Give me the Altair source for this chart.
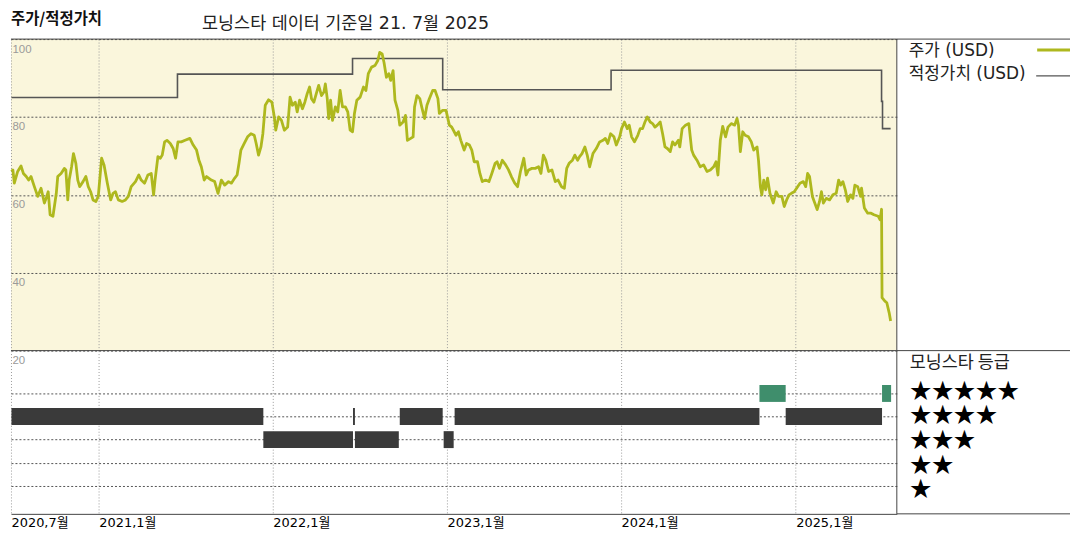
import altair as alt
import pandas as pd

# ---------------- text ----------------
chart_title = "주가/적정가치"
data_date_text = "모닝스타 데이터 기준일 21. 7월 2025"
legend_labels = ["주가 (USD)", "적정가치 (USD)"]
rating_title = "모닝스타 등급"
star_ratings = [5, 4, 3, 2, 1]
star_labels = ["★★★★★", "★★★★", "★★★", "★★", "★"]
y_ticks = [20, 40, 60, 80, 100]
x_ticks = [(2020, 7), (2021, 1), (2022, 1), (2023, 1), (2024, 1), (2025, 1)]
x_domain = [(2020, 7), (2025, 8)]

# ---------------- price (USD), time as decimal year ----------------
price_t = [
    2020.500, 2020.510, 2020.519, 2020.538, 2020.557, 2020.571, 2020.586, 2020.601, 2020.614, 2020.633,
    2020.652, 2020.671, 2020.690, 2020.703, 2020.713, 2020.722, 2020.738, 2020.757, 2020.766, 2020.785,
    2020.804, 2020.813, 2020.823, 2020.832, 2020.846, 2020.857, 2020.870, 2020.880, 2020.893, 2020.912,
    2020.927, 2020.941, 2020.956, 2020.969, 2020.984, 2020.999, 2021.018, 2021.032, 2021.051, 2021.070,
    2021.083, 2021.098, 2021.113, 2021.136, 2021.155, 2021.170, 2021.189, 2021.212, 2021.231, 2021.246,
    2021.265, 2021.284, 2021.303, 2021.316, 2021.326, 2021.341, 2021.354, 2021.367, 2021.379, 2021.392,
    2021.411, 2021.430, 2021.443, 2021.455, 2021.474, 2021.496, 2021.525, 2021.544, 2021.563, 2021.576,
    2021.591, 2021.606, 2021.620, 2021.648, 2021.667, 2021.686, 2021.705, 2021.724, 2021.747, 2021.762,
    2021.781, 2021.795, 2021.806, 2021.819, 2021.838, 2021.857, 2021.876, 2021.895, 2021.905, 2021.920,
    2021.933, 2021.943, 2021.958, 2021.977, 2021.996, 2022.009, 2022.019, 2022.034, 2022.051, 2022.066,
    2022.085, 2022.100, 2022.113, 2022.129, 2022.142, 2022.155, 2022.170, 2022.186, 2022.199, 2022.212,
    2022.223, 2022.237, 2022.250, 2022.265, 2022.280, 2022.294, 2022.303, 2022.313, 2022.322, 2022.332,
    2022.345, 2022.360, 2022.375, 2022.388, 2022.402, 2022.417, 2022.432, 2022.445, 2022.459, 2022.470,
    2022.483, 2022.502, 2022.521, 2022.535, 2022.550, 2022.569, 2022.588, 2022.603, 2022.616, 2022.629,
    2022.641, 2022.654, 2022.667, 2022.679, 2022.692, 2022.702, 2022.720, 2022.730, 2022.749, 2022.762,
    2022.774, 2022.793, 2022.806, 2022.815, 2022.830, 2022.844, 2022.857, 2022.872, 2022.887, 2022.901,
    2022.920, 2022.933, 2022.948, 2022.958, 2022.977, 2022.996, 2023.015, 2023.028, 2023.053, 2023.068,
    2023.081, 2023.100, 2023.114, 2023.129, 2023.144, 2023.157, 2023.176, 2023.190, 2023.205, 2023.224,
    2023.243, 2023.258, 2023.277, 2023.290, 2023.303, 2023.319, 2023.338, 2023.356, 2023.372, 2023.391,
    2023.406, 2023.423, 2023.442, 2023.455, 2023.470, 2023.489, 2023.508, 2023.527, 2023.542, 2023.556,
    2023.569, 2023.584, 2023.603, 2023.622, 2023.641, 2023.660, 2023.675, 2023.688, 2023.702, 2023.721,
    2023.736, 2023.751, 2023.764, 2023.778, 2023.793, 2023.808, 2023.821, 2023.840, 2023.859, 2023.878,
    2023.897, 2023.910, 2023.926, 2023.941, 2023.960, 2023.973, 2023.992, 2024.005, 2024.020, 2024.036,
    2024.049, 2024.062, 2024.077, 2024.096, 2024.112, 2024.125, 2024.138, 2024.153, 2024.168, 2024.182,
    2024.195, 2024.210, 2024.225, 2024.239, 2024.252, 2024.267, 2024.282, 2024.296, 2024.309, 2024.329,
    2024.337, 2024.352, 2024.371, 2024.390, 2024.405, 2024.418, 2024.437, 2024.456, 2024.475, 2024.494,
    2024.513, 2024.532, 2024.545, 2024.557, 2024.570, 2024.583, 2024.599, 2024.614, 2024.633, 2024.652,
    2024.665, 2024.674, 2024.684, 2024.699, 2024.712, 2024.731, 2024.747, 2024.760, 2024.779, 2024.788,
    2024.798, 2024.807, 2024.817, 2024.830, 2024.841, 2024.855, 2024.874, 2024.889, 2024.902, 2024.921,
    2024.936, 2024.949, 2024.963, 2024.978, 2024.993, 2025.012, 2025.025, 2025.044, 2025.058, 2025.069,
    2025.082, 2025.096, 2025.111, 2025.126, 2025.139, 2025.149, 2025.160, 2025.177, 2025.196, 2025.215,
    2025.234, 2025.247, 2025.259, 2025.272, 2025.285, 2025.300, 2025.316, 2025.329, 2025.342, 2025.357,
    2025.373, 2025.380, 2025.395, 2025.414, 2025.433, 2025.452, 2025.475, 2025.486, 2025.494, 2025.498,
    2025.513, 2025.524, 2025.538, 2025.547,
]
price_v = [
    66.0, 66.4, 63.0, 66.0, 67.4, 65.5, 64.7, 63.8, 64.7, 62.1,
    59.6, 61.7, 57.9, 59.6, 60.8, 54.9, 54.5, 60.4, 64.7, 65.5,
    66.8, 66.4, 58.7, 63.8, 67.2, 70.6, 68.1, 63.8, 62.1, 63.4,
    64.7, 62.1, 60.8, 58.7, 58.3, 59.6, 69.4, 67.7, 63.0, 58.7,
    60.4, 60.8, 58.7, 58.3, 58.7, 59.6, 62.1, 63.4, 65.1, 63.8,
    63.0, 65.1, 65.5, 60.0, 63.8, 69.8, 69.4, 70.2, 73.6, 74.0,
    73.2, 71.9, 69.4, 73.6, 73.6, 74.0, 74.5, 72.8, 71.5, 68.9,
    67.2, 63.8, 64.7, 63.8, 63.4, 60.4, 63.8, 62.5, 63.4, 63.0,
    64.3, 65.1, 68.1, 71.5, 73.2, 74.9, 75.7, 75.3, 73.2, 70.2,
    72.3, 75.7, 83.0, 84.4, 83.8, 80.0, 76.6, 80.0, 79.1, 76.6,
    77.4, 85.1, 83.0, 83.8, 81.3, 84.3, 82.1, 83.8, 86.0, 87.7,
    84.7, 83.8, 86.0, 88.1, 85.5, 86.4, 88.5, 84.7, 79.6, 84.3,
    79.1, 82.6, 81.3, 86.8, 82.6, 82.6, 81.3, 76.6, 76.2, 80.9,
    84.3, 85.1, 87.7, 86.8, 91.1, 92.8, 93.2, 94.5, 96.6, 96.2,
    94.0, 90.2, 91.1, 89.4, 91.9, 84.3, 81.7, 77.9, 78.7, 80.4,
    74.0, 74.5, 74.9, 82.6, 85.5, 84.7, 82.6, 79.6, 83.0, 84.7,
    86.8, 86.8, 84.7, 80.9, 81.7, 81.7, 77.9, 77.4, 75.3, 76.2,
    74.0, 71.5, 73.2, 72.8, 71.5, 68.5, 68.5, 65.5, 63.4, 63.8,
    63.4, 65.5, 68.1, 68.5, 66.8, 68.9, 67.7, 66.4, 64.7, 63.0,
    62.1, 66.0, 69.4, 65.1, 66.4, 66.8, 66.8, 67.2, 65.5, 70.2,
    68.9, 66.0, 66.4, 63.4, 63.8, 62.1, 61.7, 66.8, 68.1, 68.9,
    70.2, 68.9, 69.8, 70.6, 72.3, 70.2, 67.2, 70.6, 71.9, 73.6,
    74.0, 74.5, 73.2, 75.7, 74.9, 72.8, 74.9, 77.0, 78.7, 77.0,
    77.9, 74.9, 73.6, 75.3, 77.0, 77.0, 78.7, 80.0, 78.7, 78.3,
    77.4, 77.9, 78.7, 75.7, 72.3, 71.9, 71.1, 73.6, 72.8, 74.0,
    72.3, 77.0, 77.9, 78.3, 71.5, 70.2, 68.9, 67.2, 67.7, 66.0,
    66.4, 67.2, 68.5, 65.1, 74.0, 77.6, 74.9, 77.4, 78.3, 77.9,
    79.6, 77.9, 71.1, 76.2, 75.3, 74.9, 73.6, 71.5, 72.3, 68.9,
    62.1, 60.0, 63.8, 61.3, 64.3, 60.4, 57.9, 60.8, 59.6, 59.6,
    57.0, 58.7, 60.0, 60.4, 60.8, 62.1, 63.0, 63.4, 62.1, 65.5,
    64.7, 59.6, 57.9, 56.2, 58.3, 60.8, 57.9, 59.1, 58.7, 60.0,
    60.4, 63.8, 62.5, 63.4, 61.3, 58.3, 60.0, 59.1, 62.5, 62.1,
    59.6, 61.7, 56.6, 55.3, 55.3, 54.9, 54.5, 53.6, 56.3, 33.6,
    32.7, 32.3, 29.7, 27.6,
]

# ---------------- fair value (USD), step changes ----------------
fair_t = [2020.500, 2021.453, 2022.459, 2022.977, 2023.944, 2025.494, 2025.500, 2025.547]
fair_v = [85, 91, 95, 87, 92, 84, 77, 77]

# ---------------- Morningstar rating periods ----------------
rating_start = [2020.500, 2021.947, 2022.462, 2022.472, 2022.730, 2022.981, 2023.044, 2024.795, 2024.945, 2025.496]
rating_end = [2021.947, 2022.462, 2022.472, 2022.726, 2022.977, 2023.040, 2024.795, 2024.945, 2025.496, 2025.549]
rating_val = [4, 3, 4, 3, 4, 3, 4, 5, 4, 5]

# ---------------- styling ----------------
PRICE_COLOR = "#AEB81E"
FAIR_COLOR = "#555555"
BG = "#FAF6DC"
BORDER = "#444444"
DARK_BAR = "#3a3a3a"
GREEN_BAR = "#3F8E6C"
KFONT = "Noto Sans CJK KR"
MIXFONT = "DejaVu Sans, Noto Sans CJK KR"
PLOT_W, SIDE_W = 890, 174
TOP_H, BOT_H = 313, 164


def to_date(t):
    y = int(t)
    s = pd.Timestamp(year=y, month=1, day=1)
    e = pd.Timestamp(year=y + 1, month=1, day=1)
    return (s + (e - s) * (t - y)).floor("D")


price_df = pd.DataFrame({"date": [to_date(t) for t in price_t], "price": price_v})
fair_df = pd.DataFrame({"date": [to_date(t) for t in fair_t], "price": fair_v})
rating_df = pd.DataFrame({
    "start": [to_date(t) for t in rating_start],
    "end": [to_date(t) for t in rating_end],
    "rating": rating_val,
})
one = pd.DataFrame({"k": [0]})

dt = lambda ym: alt.DateTime(year=ym[0], month=ym[1], date=1)
x_scale = alt.Scale(domain=[dt(d) for d in x_domain])
tick_vals = [dt(d) for d in x_ticks]

x_axis_top = alt.Axis(values=tick_vals, grid=True, gridColor="#9a9a9a", gridDash=[1, 2],
                      labels=False, ticks=False, domain=False, title=None)
x_axis_bot = alt.Axis(values=tick_vals, grid=True, gridColor="#9a9a9a", gridDash=[1, 2],
                      labels=True, format="%Y,%-m월", labelAlign="left", labelBaseline="top",
                      labelPadding=3, labelOffset=0, labelFont=MIXFONT, labelFontSize=13,
                      labelColor="#000000", labelFlush=False, labelOverlap=False,
                      ticks=False, tickSize=0, domain=True, domainColor=BORDER, title=None)
y_scale = alt.Scale(domain=[20, 100], nice=False, zero=False)
y_axis = alt.Axis(values=y_ticks, grid=True, gridColor="#555555", gridDash=[2, 2],
                  labelAlign="left", labelBaseline="top", labelPadding=-1, labelOffset=4,
                  labelColor="#9a9a9a", labelFont="Liberation Sans", labelFontSize=11.5,
                  labelFlush=False, labelOverlap=False,
                  ticks=False, tickSize=0, domain=False, title=None)

x_enc = alt.X("date:T", scale=x_scale, axis=x_axis_top)
y_enc = alt.Y("price:Q", scale=y_scale, axis=y_axis)

fair_line = alt.Chart(fair_df).mark_line(interpolate="step-after", color=FAIR_COLOR,
                                         strokeWidth=1.6).encode(x=x_enc, y=y_enc)
price_line = alt.Chart(price_df).mark_line(color=PRICE_COLOR, strokeWidth=2.8,
                                           strokeJoin="round").encode(x=x_enc, y=y_enc)
top_rule = alt.Chart(one).mark_rule(color=BORDER, strokeWidth=1).encode(y=alt.datum(100))
bot_rule = alt.Chart(one).mark_rule(color=BORDER, strokeWidth=1).encode(y=alt.datum(20))
title_txt = alt.Chart(one).mark_text(align="left", baseline="middle", font=KFONT, fontSize=15.5,
                                     fontWeight="bold", color="#111111").encode(
    x=alt.value(0), y=alt.value(-20), text=alt.value(chart_title))
sub_txt = alt.Chart(one).mark_text(align="left", baseline="middle", font=MIXFONT, fontSize=17.5,
                                   color="#222222").encode(
    x=alt.value(192), y=alt.value(-15.5), text=alt.value(data_date_text))

price_chart = alt.layer(fair_line, price_line, top_rule, bot_rule, title_txt, sub_txt).properties(
    width=PLOT_W, height=TOP_H, view=alt.ViewBackground(fill=BG, stroke=None))

# legend side panel
leg_layers = [
    alt.Chart(one).mark_rule(color=BORDER).encode(x=alt.value(0), x2=alt.value(SIDE_W), y=alt.value(0)),
    alt.Chart(one).mark_rule(color=BORDER).encode(x=alt.value(0), y=alt.value(0), y2=alt.value(TOP_H)),
    alt.Chart(one).mark_text(align="left", baseline="middle", font=MIXFONT, fontSize=17,
                             color="#222222").encode(x=alt.value(12), y=alt.value(12),
                                                     text=alt.value(legend_labels[0])),
    alt.Chart(one).mark_text(align="left", baseline="middle", font=MIXFONT, fontSize=17,
                             color="#222222").encode(x=alt.value(12), y=alt.value(35),
                                                     text=alt.value(legend_labels[1])),
    alt.Chart(one).mark_rule(color=PRICE_COLOR, strokeWidth=3).encode(
        x=alt.value(141), x2=alt.value(SIDE_W), y=alt.value(11)),
    alt.Chart(one).mark_rule(color=FAIR_COLOR, strokeWidth=1.2).encode(
        x=alt.value(140), x2=alt.value(SIDE_W), y=alt.value(37)),
]
legend_panel = alt.layer(*leg_layers).properties(width=SIDE_W, height=TOP_H,
                                                  view=alt.ViewBackground(stroke=None))

# rating panel
r_scale = alt.Scale(domain=[0, 6.64], nice=False, zero=False)
r_axis = alt.Axis(values=star_ratings, grid=True, gridColor="#555555", gridDash=[2, 2],
                  labels=False, ticks=False, domain=False, title=None)
rating_bars = alt.Chart(rating_df).mark_bar(orient="horizontal", size=17).encode(
    x=alt.X("start:T", scale=x_scale, axis=x_axis_bot),
    x2="end:T",
    y=alt.Y("rating:Q", scale=r_scale, axis=r_axis),
    color=alt.condition("datum.rating == 5", alt.value(GREEN_BAR), alt.value(DARK_BAR)),
)
rating_chart = alt.layer(rating_bars).properties(width=PLOT_W, height=BOT_H,
                                                 view=alt.ViewBackground(stroke=None))

stars_df = pd.DataFrame({"rating": star_ratings, "stars": star_labels})
star_layers = [
    alt.Chart(one).mark_rule(color=BORDER).encode(x=alt.value(0), x2=alt.value(SIDE_W), y=alt.value(0)),
    alt.Chart(one).mark_rule(color=BORDER).encode(x=alt.value(0), x2=alt.value(SIDE_W), y=alt.value(BOT_H)),
    alt.Chart(one).mark_rule(color=BORDER).encode(x=alt.value(0), y=alt.value(0), y2=alt.value(BOT_H)),
    alt.Chart(one).mark_text(align="left", baseline="middle", font=KFONT, fontSize=17.5,
                             color="#222222").encode(x=alt.value(13), y=alt.value(12),
                                                     text=alt.value(rating_title)),
    alt.Chart(stars_df).mark_text(align="left", baseline="middle", font=KFONT, fontSize=22,
                                  color="#000000").encode(
        x=alt.value(13), y=alt.Y("rating:Q", scale=r_scale, axis=None), text="stars:N"),
]
star_panel = alt.layer(*star_layers).properties(width=SIDE_W, height=BOT_H,
                                                 view=alt.ViewBackground(stroke=None))

chart = alt.concat(price_chart, legend_panel, rating_chart, star_panel, columns=2,
                   spacing=0, bounds="flush").resolve_scale(
    x="independent", y="independent").properties(
    padding={"left": 0, "top": 3, "right": 0, "bottom": 0}, background="white"
).configure_view(stroke=None)

chart.save("out.html", embed_options={"renderer": "svg", "actions": False})
